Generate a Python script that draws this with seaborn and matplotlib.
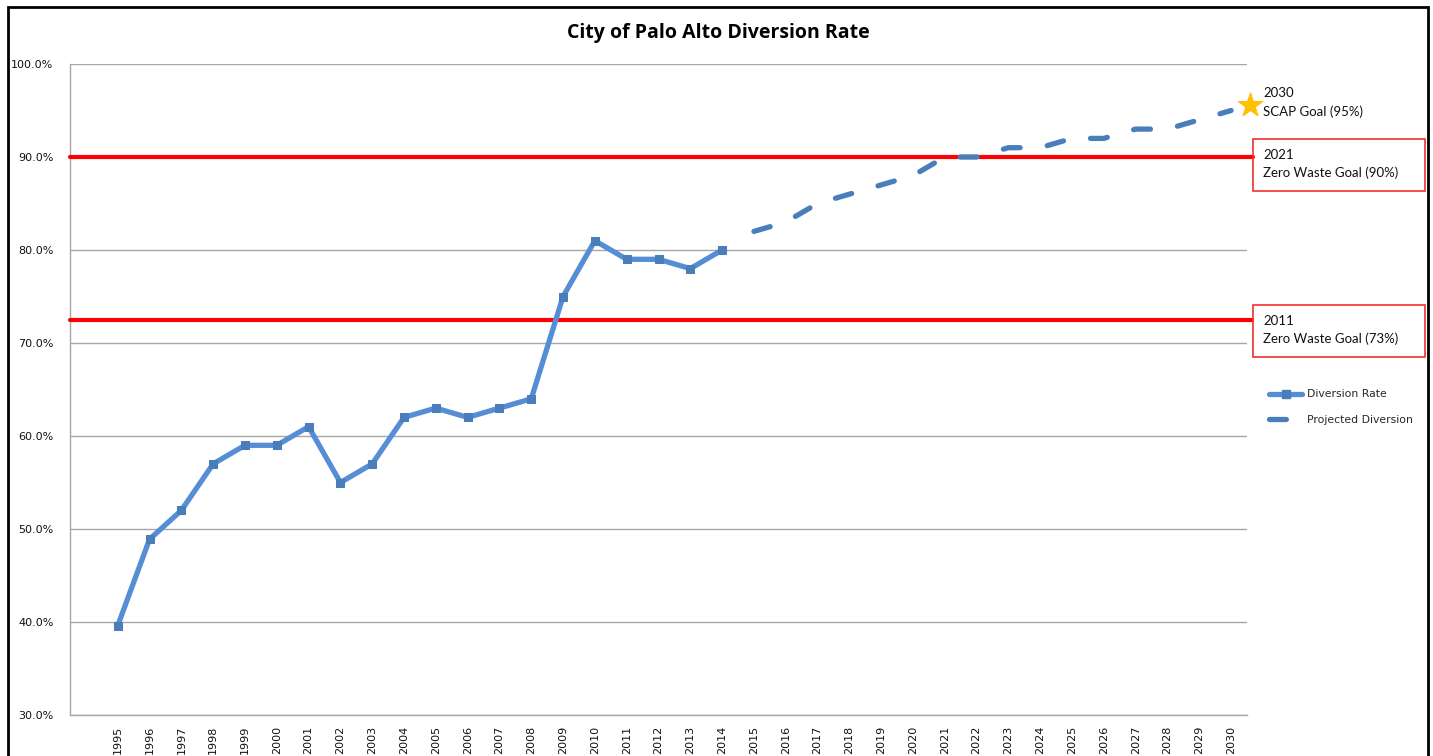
import numpy as np
import pandas as pd
import seaborn as sns
import matplotlib.pyplot as plt
from matplotlib.lines import Line2D
from matplotlib.patches import Rectangle
from matplotlib.ticker import FuncFormatter

# data
years_actual = list(range(1995, 2015))
rate_actual = [39.6, 48.9, 52, 57, 59, 59, 61, 55, 57, 62, 63, 62, 63, 64, 75, 81, 79, 79, 78, 80]
years_proj = list(range(2015, 2031))
rate_proj = [82, 83, 85, 86, 87, 88, 90, 90, 91, 91, 92, 92, 93, 93, 94, 95]
goal_2021 = 90.0
goal_2011 = 72.5
star_year, star_value = 2030.6, 95.6
tick_years = list(range(1995, 2031))

actual = pd.DataFrame({'year': years_actual, 'rate': rate_actual})
proj = pd.DataFrame({'year': years_proj, 'rate': rate_proj})

sns.set_style('white')
plt.rcParams['font.family'] = ['DejaVu Sans']

W, H = 1433, 756
fig = plt.figure(figsize=(W / 100, H / 100), dpi=100)
ax = fig.add_axes([70 / W, 1 - 715 / H, 1177 / W, 651 / H])

blue = '#558ED5'
blue_dark = '#4A7EBB'

sns.lineplot(data=actual, x='year', y='rate', ax=ax, color=blue, linewidth=3.8,
             marker='s', markersize=6, markerfacecolor=blue_dark, markeredgecolor=blue_dark,
             zorder=4)
sns.lineplot(data=proj, x='year', y='rate', ax=ax, color=blue_dark, linewidth=3.8,
             linestyle=(0, (3.2, 5.2)), dash_capstyle='round', zorder=4)

red = '#FF0000'
ax.axhline(goal_2021, xmin=0, xmax=1.005, color=red, linewidth=3, clip_on=False, zorder=3)
ax.axhline(goal_2011, xmin=0, xmax=1.004, color=red, linewidth=3, clip_on=False, zorder=3)

ax.set_xlim(1993.5, 2030.5)
ax.set_ylim(30, 100)
ax.set_yticks(np.arange(30, 101, 10))
ax.yaxis.set_major_formatter(FuncFormatter(lambda v, p: '%.1f%%' % v))
ax.set_xticks(tick_years)
ax.set_xticklabels([str(y) for y in tick_years], rotation=90, fontsize=8, color='#111111')
ax.set_xticks(np.arange(1993.5, 2031, 1), minor=True)
ax.tick_params(axis='x', which='major', length=0, pad=8)
ax.tick_params(axis='x', which='minor', length=5, width=1, color='#a6a6a6', direction='out')
ax.tick_params(axis='y', length=4, width=1, color='#a6a6a6', direction='out', labelsize=8,
               labelcolor='#111111', pad=8)
ax.set_xlabel('')
ax.set_ylabel('')
ax.yaxis.grid(True, color='#a6a6a6', linewidth=1)
ax.xaxis.grid(False)
for s in ['top', 'right']:
    ax.spines[s].set_visible(False)
for s in ['left', 'bottom']:
    ax.spines[s].set_color('#a6a6a6')
    ax.spines[s].set_linewidth(1)

# star + goal annotations
ax.scatter([star_year], [star_value], marker='*', s=320, color='#FFC000', clip_on=False, zorder=5)
fig.text(1263 / W, 1 - 93 / H, '2030', fontsize=9.5, family='Lato', va='center', color='#111111')
fig.text(1263 / W, 1 - 112 / H, 'SCAP Goal (95%)', fontsize=9.5, family='Lato', va='center', color='#111111')

for (top, l1, l2) in [(139, '2021', 'Zero Waste Goal (90%)'), (305, '2011', 'Zero Waste Goal (73%)')]:
    fig.patches.append(Rectangle((1253 / W, 1 - (top + 52) / H), 172 / W, 52 / H,
                                 transform=fig.transFigure, fill=False, edgecolor='#F03030',
                                 linewidth=1.2))
    fig.text(1263 / W, 1 - (top + 16) / H, l1, fontsize=9.5, family='Lato', va='center', color='#111111')
    fig.text(1263 / W, 1 - (top + 34) / H, l2, fontsize=9.5, family='Lato', va='center', color='#111111')

handles = [Line2D([], [], color=blue, linewidth=3.8, marker='s', markersize=6,
                  markerfacecolor=blue_dark, markeredgecolor=blue_dark),
           Line2D([], [], color=blue_dark, linewidth=3.8, linestyle=(0, (3.2, 5.2)),
                  dash_capstyle='round')]
leg = fig.legend(handles, ['Diversion Rate', 'Projected Diversion'], loc='upper left',
                 bbox_to_anchor=(1264 / W, 1 - 384 / H), frameon=False, fontsize=7.8,
                 handlelength=3.0, handletextpad=0.5, labelspacing=1.45, borderpad=0)

fig.suptitle('City of Palo Alto Diversion Rate', x=718 / W, y=1 - 33 / H, va='center',
             fontsize=14, fontweight='bold', family='Open Sans', color='black')

# outer chart frame
fig.patches.append(Rectangle((8 / W, -0.02), 1420 / W, 1.02 - 7 / H, transform=fig.transFigure,
                             fill=False, edgecolor='black', linewidth=2))

fig.savefig('out.png', dpi=100)
